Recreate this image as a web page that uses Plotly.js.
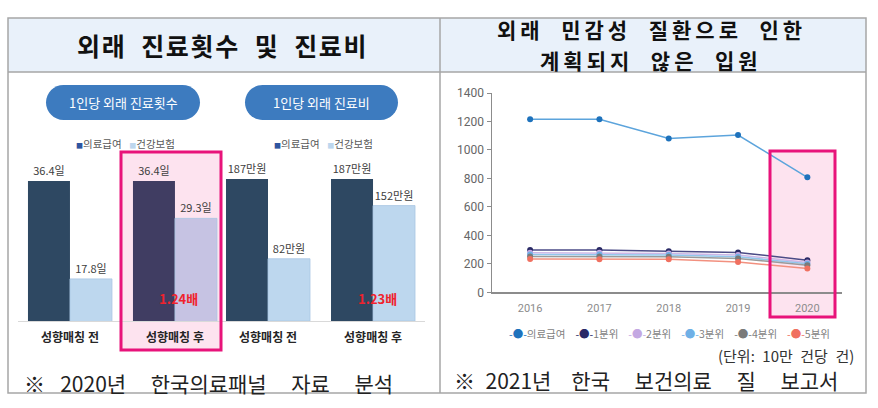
<!DOCTYPE html>
<html><head><meta charset="utf-8">
<script src="https://cdn.plot.ly/plotly-3.0.1.min.js"></script>
<style>html,body{margin:0;padding:0;background:#fff;}#chart{width:878px;height:408px;}</style>
</head><body><div id="chart"></div>
<script>
// ---------- data ----------
const barCategories = ['성향매칭 전', '성향매칭 후'];
const barSeriesNames = ['의료급여', '건강보험'];
const visitsMedicalAid = [36.4, 36.4];
const visitsInsurance = [17.8, 29.3];
const costMedicalAid = [187, 187];
const costInsurance = [82, 152];
const visitUnit = '일';
const costUnit = '만원';

const years = [2016, 2017, 2018, 2019, 2020];
const lineSeriesNames = ['의료급여', '1분위', '2분위', '3분위', '4분위', '5분위'];
const aidAdmissions = [1215, 1215, 1080, 1105, 808];
const q1Admissions = [298, 297, 289, 280, 226];
const q2Admissions = [278, 277, 273, 262, 210];
const q3Admissions = [265, 265, 262, 250, 200];
const q4Admissions = [252, 252, 250, 238, 190];
const q5Admissions = [234, 233, 232, 212, 168];

// ---------- styling helpers ----------
const W = 878, H = 408;
const X = v => v / W;
const Y = v => 1 - v / H;
const KR = '"Noto Sans CJK KR", "Noto Sans", sans-serif';
const NB = '\u00a0';
const EN = '\u2002';

const lineColors = ['#5ca4dc', '#4b4b86', '#cdb6e6', '#92c6ec', '#9a9a9a', '#f2907f'];
const markerColors = ['#1e72bc', '#2a2a66', '#c4a8e2', '#6fb0e6', '#7a7a7a', '#f07060'];
const lineSeries = [aidAdmissions, q1Admissions, q2Admissions, q3Admissions, q4Admissions, q5Admissions];

const valueFont = {family: KR, size: 11, color: '#404040'};

function barTrace(vals, unit, name, colors, xa, ya, lineCol) {
  return {
    type: 'bar', x: barCategories, y: vals, name: name,
    xaxis: xa, yaxis: ya,
    marker: {color: colors, line: {color: lineCol, width: lineCol ? 0.8 : 0}},
    text: vals.map(v => v + unit), textposition: 'outside',
    textfont: valueFont, cliponaxis: false,
    showlegend: false, hoverinfo: 'skip'
  };
}

const traces = [
  barTrace(visitsMedicalAid, visitUnit, barSeriesNames[0], ['#2e4862', '#403d62'], 'x', 'y'),
  barTrace(visitsInsurance, visitUnit, barSeriesNames[1], ['#bdd7ee', '#c6c3e3'], 'x', 'y', '#a9c6e3'),
  barTrace(costMedicalAid, costUnit, barSeriesNames[0], ['#2e4862', '#2e4862'], 'x2', 'y2'),
  barTrace(costInsurance, costUnit, barSeriesNames[1], ['#bdd7ee', '#bdd7ee'], 'x2', 'y2', '#a9c6e3')
];
lineSeries.forEach((s, i) => {
  traces.push({
    type: 'scatter', mode: 'lines+markers', x: years, y: s, name: lineSeriesNames[i],
    xaxis: 'x3', yaxis: 'y3',
    line: {color: lineColors[i], width: 1.5},
    marker: {color: markerColors[i], size: 6},
    showlegend: false, hoverinfo: 'skip'
  });
});

function pill(x0, y0, x1, y1) {
  const r = (y1 - y0) / 2, k = 0.5523 * r, ym = y0 + r;
  const p = (x, y) => X(x) + ',' + Y(y);
  return 'M' + p(x0 + r, y0) + ' L' + p(x1 - r, y0) +
    ' C' + p(x1 - r + k, y0) + ' ' + p(x1, ym - k) + ' ' + p(x1, ym) +
    ' C' + p(x1, ym + k) + ' ' + p(x1 - r + k, y1) + ' ' + p(x1 - r, y1) +
    ' L' + p(x0 + r, y1) +
    ' C' + p(x0 + r - k, y1) + ' ' + p(x0, ym + k) + ' ' + p(x0, ym) +
    ' C' + p(x0, ym - k) + ' ' + p(x0 + r - k, y0) + ' ' + p(x0 + r, y0) + ' Z';
}

function rect(x0, y0, x1, y1, o) {
  return Object.assign({type: 'rect', xref: 'paper', yref: 'paper', x0: X(x0), x1: X(x1), y0: Y(y1), y1: Y(y0)}, o);
}
function line(x0, y0, x1, y1, o) {
  return Object.assign({type: 'line', xref: 'paper', yref: 'paper', x0: X(x0), x1: X(x1), y0: Y(y0), y1: Y(y1)}, o);
}

const PINK = '#e8137a', PINKFILL = '#fde3ef', BORDER = '#a6a6a6';
const shapes = [
  rect(8, 18, 866, 72, {fillcolor: '#e9f1fa', line: {width: 0}, layer: 'below'}),
  rect(121, 152, 221, 350, {fillcolor: PINKFILL, line: {width: 0}, layer: 'below'}),
  rect(770, 151, 835, 317, {fillcolor: PINKFILL, line: {width: 0}, layer: 'below'}),
  {type: 'path', xref: 'paper', yref: 'paper', path: pill(46, 85, 200, 120), fillcolor: '#3d7bbf', line: {width: 0}, layer: 'below'},
  {type: 'path', xref: 'paper', yref: 'paper', path: pill(245, 85, 398, 120), fillcolor: '#3d7bbf', line: {width: 0}, layer: 'below'},
  rect(8, 18, 866, 393, {fillcolor: 'rgba(0,0,0,0)', line: {color: BORDER, width: 1.5}}),
  line(8, 72, 866, 72, {line: {color: BORDER, width: 1.5}}),
  line(440, 18, 440, 393, {line: {color: BORDER, width: 1.5}}),
  rect(121, 152, 221, 350, {fillcolor: 'rgba(0,0,0,0)', line: {color: PINK, width: 3}}),
  rect(770, 151, 835, 317, {fillcolor: 'rgba(0,0,0,0)', line: {color: PINK, width: 3}})
];

function ann(x, y, text, font, o) {
  return Object.assign({xref: 'paper', yref: 'paper', x: X(x), y: Y(y), text: text, showarrow: false,
    font: Object.assign({family: KR}, font), xanchor: 'center', yanchor: 'middle'}, o);
}
const spaced = (t, ls) => '<span style="letter-spacing:' + ls + 'px">' + t + '</span>';

const sq = c => '<span style="color:' + c + ';font-size:7px">■</span>';
const barLegend = sq('#2f55a0') + barSeriesNames[0] + EN + NB + sq('#bdd7ee') + barSeriesNames[1];
const lineLegend = lineSeriesNames.map((n, i) =>
  '<span style="color:' + markerColors[i] + '">-●-</span>' + n).join(EN + NB + NB);

const ratioVisits = (visitsMedicalAid[1] / visitsInsurance[1]).toFixed(2) + '배';
const ratioCost = (costMedicalAid[1] / costInsurance[1]).toFixed(2) + '배';

const G = EN + NB + NB;
const G2 = EN + NB + NB + NB;
const T = NB + NB;

const annotations = [
  ann(222, 45, spaced('외래' + T + '진료횟수' + T + '및' + T + '진료비', 1.7), {size: 25, weight: 700, color: '#111'}),
  ann(651, 29.5, spaced('외래' + T + '민감성' + T + '질환으로' + T + '인한', 4), {size: 21, weight: 700, color: '#111'}),
  ann(651, 60, spaced('계획되지' + T + '않은' + T + '입원', 4), {size: 21, weight: 700, color: '#111'}),
  ann(123, 102.5, '1인당' + NB + '외래' + NB + '진료횟수', {size: 13, color: '#ffffff'}),
  ann(321.5, 102.5, '1인당' + NB + '외래' + NB + '진료비', {size: 13, color: '#ffffff'}),
  ann(74, 143, barLegend, {size: 10.5, color: '#595959'}, {xanchor: 'left'}),
  ann(272, 143, barLegend, {size: 10.5, color: '#595959'}, {xanchor: 'left'}),
  ann(178.5, 298, ratioVisits, {size: 13, weight: 700, color: '#f0232d'}),
  ann(377, 298, ratioCost, {size: 13, weight: 700, color: '#f0232d'}),
  ann(669, 333, lineLegend, {size: 10.5, color: '#7f7f7f'}),
  ann(856, 355, '(단위:' + EN + '10만' + EN + '건당' + EN + '건)', {size: 15, color: '#333'}, {xanchor: 'right'}),
  ann(22, 383, '※' + EN + NB + '2020년' + G2 + '한국의료패널' + G2 + '자료' + G2 + '분석', {size: 21, color: '#222'}, {xanchor: 'left'}),
  ann(452, 380, '※' + EN + '2021년' + G + '한국' + G2 + '보건의료' + G2 + '질' + G2 + '보고서', {size: 21, color: '#222'}, {xanchor: 'left'})
];

const catAxis = {
  type: 'category', showline: true, linecolor: '#d9d9d9', linewidth: 1, ticks: '',
  tickfont: {family: KR, size: 12, color: '#262626', weight: 700},
  showgrid: false, zeroline: false, fixedrange: true, ticklabelstandoff: 6
};

const layout = {
  width: W, height: H, margin: {l: 0, r: 0, t: 0, b: 0},
  paper_bgcolor: '#ffffff', plot_bgcolor: 'rgba(0,0,0,0)',
  showlegend: false, barmode: 'group', bargap: 0.2, bargroupgap: 0,
  font: {family: KR},
  xaxis: Object.assign({}, catAxis, {anchor: 'y', domain: [X(18), X(222)], range: [-0.495, 1.448]}),
  yaxis: {anchor: 'x', domain: [Y(321), Y(150)], range: [9.8, 42.29], visible: false, fixedrange: true},
  xaxis2: Object.assign({}, catAxis, {anchor: 'y2', domain: [X(222), X(425)], range: [-0.438, 1.495]}),
  yaxis2: {anchor: 'x2', domain: [Y(321), Y(150)], range: [0, 225.2], visible: false, fixedrange: true},
  xaxis3: {anchor: 'y3', domain: [X(492), X(842)], range: [2015.45, 2020.5], tickvals: years,
    ticktext: years.map(String), showline: true, linecolor: '#8c8c8c', linewidth: 1.5, ticks: '',
    tickfont: {family: '"Liberation Sans Narrow", Roboto, sans-serif', size: 11, color: '#8c8c8c'},
    showgrid: false, zeroline: false, fixedrange: true, ticklabelstandoff: 5},
  yaxis3: {anchor: 'x3', domain: [Y(292.3), Y(93)], range: [0, 1400], dtick: 200, tick0: 0,
    showline: true, linecolor: '#8c8c8c', linewidth: 1.5, ticks: 'outside', ticklen: 4, tickcolor: '#8c8c8c',
    tickfont: {family: '"Liberation Sans Narrow", Roboto, sans-serif', size: 12, color: '#666'},
    showgrid: false, zeroline: false, fixedrange: true},
  shapes: shapes,
  annotations: annotations
};

Plotly.newPlot('chart', traces, layout, {staticPlot: true, displayModeBar: false});
</script>
</body></html>
